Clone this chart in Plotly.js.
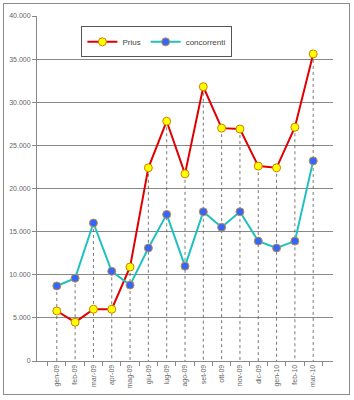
<!DOCTYPE html>
<html><head><meta charset="utf-8">
<script src="https://cdn.plot.ly/plotly-3.0.1.min.js"></script>
<style>
html,body{margin:0;padding:0;background:#fff;}
#frame{position:absolute;left:3px;top:3px;width:347px;height:392px;border:1px solid #8c8c8c;box-sizing:border-box;}
#chart{position:absolute;left:0;top:0;width:354px;height:400px;}
</style></head>
<body>
<div id="frame"></div>
<div id="chart"></div>
<script>
const months = ["gen-09","feb-09","mar-09","apr-09","mag-09","giu-09","lug-09","ago-09","set-09","ott-09","nov-09","dic-09","gen-10","feb-10","mar-10"];
const prius = [5800,4500,6000,6000,10900,22400,27800,21700,31800,27000,26900,22600,22400,27100,35600];
const concorrenti = [8700,9600,16000,10400,8800,13100,17000,11000,17300,15500,17300,13900,13100,13900,23200];

// drop lines from the highest point of each month down to the axis
const dropX = [], dropY = [];
months.forEach((m, i) => {
  dropX.push(m, m, null);
  dropY.push(Math.max(prius[i], concorrenti[i]), 0, null);
});

const traces = [
  {x: dropX, y: dropY, mode: 'lines', showlegend: false, hoverinfo: 'skip',
   line: {color: '#555', width: 0.8, dash: 'dot'}},
  {x: months, y: prius, name: 'Prius', mode: 'lines+markers',
   line: {color: '#e00000', width: 2},
   marker: {color: '#ffff00', size: 8, line: {color: '#d08000', width: 1}}},
  {x: months, y: concorrenti, name: 'concorrenti', mode: 'lines+markers',
   line: {color: '#20c0c0', width: 2},
   marker: {color: '#3366ff', size: 8, line: {color: '#c09040', width: 1}}}
];

const layout = {
  width: 354, height: 400,
  margin: {l: 37, r: 21, t: 16, b: 39},
  paper_bgcolor: 'rgba(0,0,0,0)', plot_bgcolor: '#fff',
  separators: ',.',
  font: {family: 'Liberation Sans, Arial, sans-serif', size: 7, color: '#555'},
  showlegend: true,
  legend: {orientation: 'h', x: 0.15, y: 0.97, xanchor: 'left', yanchor: 'top',
    bgcolor: '#fff', bordercolor: '#555', borderwidth: 1,
    font: {size: 8, color: '#444'}, itemwidth: 30},
  xaxis: {type: 'category', showgrid: false, showline: true, linecolor: '#888',
    ticks: 'outside', tickson: 'boundaries', ticklen: 4, tickcolor: '#888',
    tickangle: -90, tickfont: {size: 7, color: '#666'}, zeroline: false},
  yaxis: {range: [0, 40000], dtick: 5000, tickformat: ',d', showgrid: true,
    gridcolor: '#888', gridwidth: 1, showline: true, linecolor: '#888',
    ticks: 'outside', ticklen: 4, tickcolor: '#888', zeroline: false,
    tickfont: {size: 7, color: '#666'}}
};

Plotly.newPlot('chart', traces, layout, {displayModeBar: false, staticPlot: true});
</script>
</body></html>
